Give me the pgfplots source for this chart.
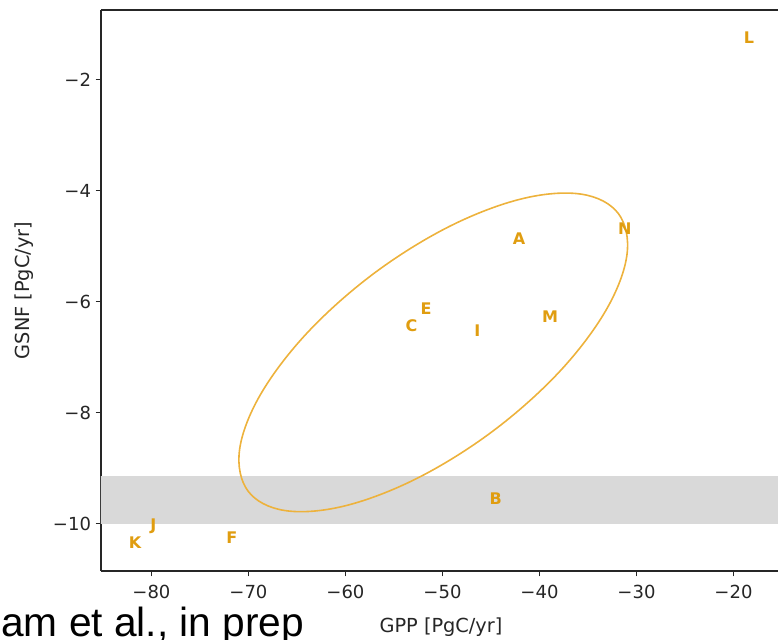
\documentclass[border=0pt]{standalone}
\usepackage{fontspec}
\setmainfont{DejaVu Sans}
\newfontfamily\helv{Liberation Sans}
\usepackage{pgfplots}
\pgfplotsset{compat=1.18}
\definecolor{ptC}{HTML}{E09D10}
\definecolor{ellC}{HTML}{EDB23C}
\definecolor{bandC}{HTML}{D9D9D9}
\definecolor{spineC}{HTML}{262626}

\begin{document}
\begin{tikzpicture}
  \begin{axis}[
    scale only axis, width=510pt, height=420.75pt,
    xmin=-85.2, xmax=-15.1, ymin=-10.85, ymax=-0.74,
    axis x line=box, axis y line*=left,
    xtick pos=bottom, ytick pos=left, tick align=outside,
    major tick length=4pt,
    axis line style={spineC, line width=0.8pt},
    tick style={spineC, line width=0.8pt},
    xtick={-80,-70,-60,-50,-40,-30,-20},
    xticklabels={−80,−70,−60,−50,−40,−30,−20},
    ytick={-10,-8,-6,-4,-2},
    yticklabels={−10,−8,−6,−4,−2},
    tick label style={font=\fontsize{13.5}{16}\selectfont, text=spineC},
    xticklabel style={yshift=-3pt},
    label style={font=\fontsize{14.5}{17}\selectfont, text=spineC},
    xlabel={GPP [PgC/yr]}, ylabel={GSNF [PgC/yr]},
    xlabel style={yshift=-7.5pt},
    ylabel style={yshift=7.5pt},
    clip=true,
  ]
    % grey band
    \addplot[fill=bandC, draw=none] coordinates
      {(-90,-10.0) (-10,-10.0) (-10,-9.13) (-90,-9.13)} -- cycle;
    % ellipse outline
    \addplot[ellC, line width=1.2pt, smooth cycle, tension=0.6] coordinates {
      (-31.86,-4.41) (-30.98,-5.15) (-33.14,-6.15) (-38.00,-7.27)
      (-44.85,-8.335) (-52.62,-9.18) (-60.14,-9.68) (-66.26,-9.76)
      (-70.04,-9.41) (-70.92,-8.67) (-68.76,-7.67) (-63.90,-6.55)
      (-57.05,-5.485) (-49.28,-4.64) (-41.76,-4.14) (-35.64,-4.06)
    };
    % lettered points
    \addplot[only marks, mark=none, nodes near coords, point meta=explicit symbolic,
      every node near coord/.append style={anchor=center, inner sep=0pt,
        font=\bfseries\fontsize{12}{14}\selectfont, text=ptC}]
      table[meta=lab] {
      x      y      lab
      -42.1  -4.86  A
      -44.5  -9.55  B
      -53.2  -6.43  C
      -51.7  -6.13  E
      -71.7  -10.25 F
      -46.4  -6.52  I
      -79.8  -10.04 J
      -81.7  -10.34 K
      -18.4  -1.24  L
      -38.9  -6.27  M
      -31.2  -4.68  N
    };
  \end{axis}
  \node[anchor=base west, inner sep=0pt, font=\helv\fontsize{30.5}{34}\selectfont]
    at (-75pt,-49pt) {am et al., in prep};
  \pgfresetboundingbox
  \path[use as bounding box] (-75.75pt,-51pt) rectangle (507.75pt,428.25pt);
\end{tikzpicture}
\end{document}
